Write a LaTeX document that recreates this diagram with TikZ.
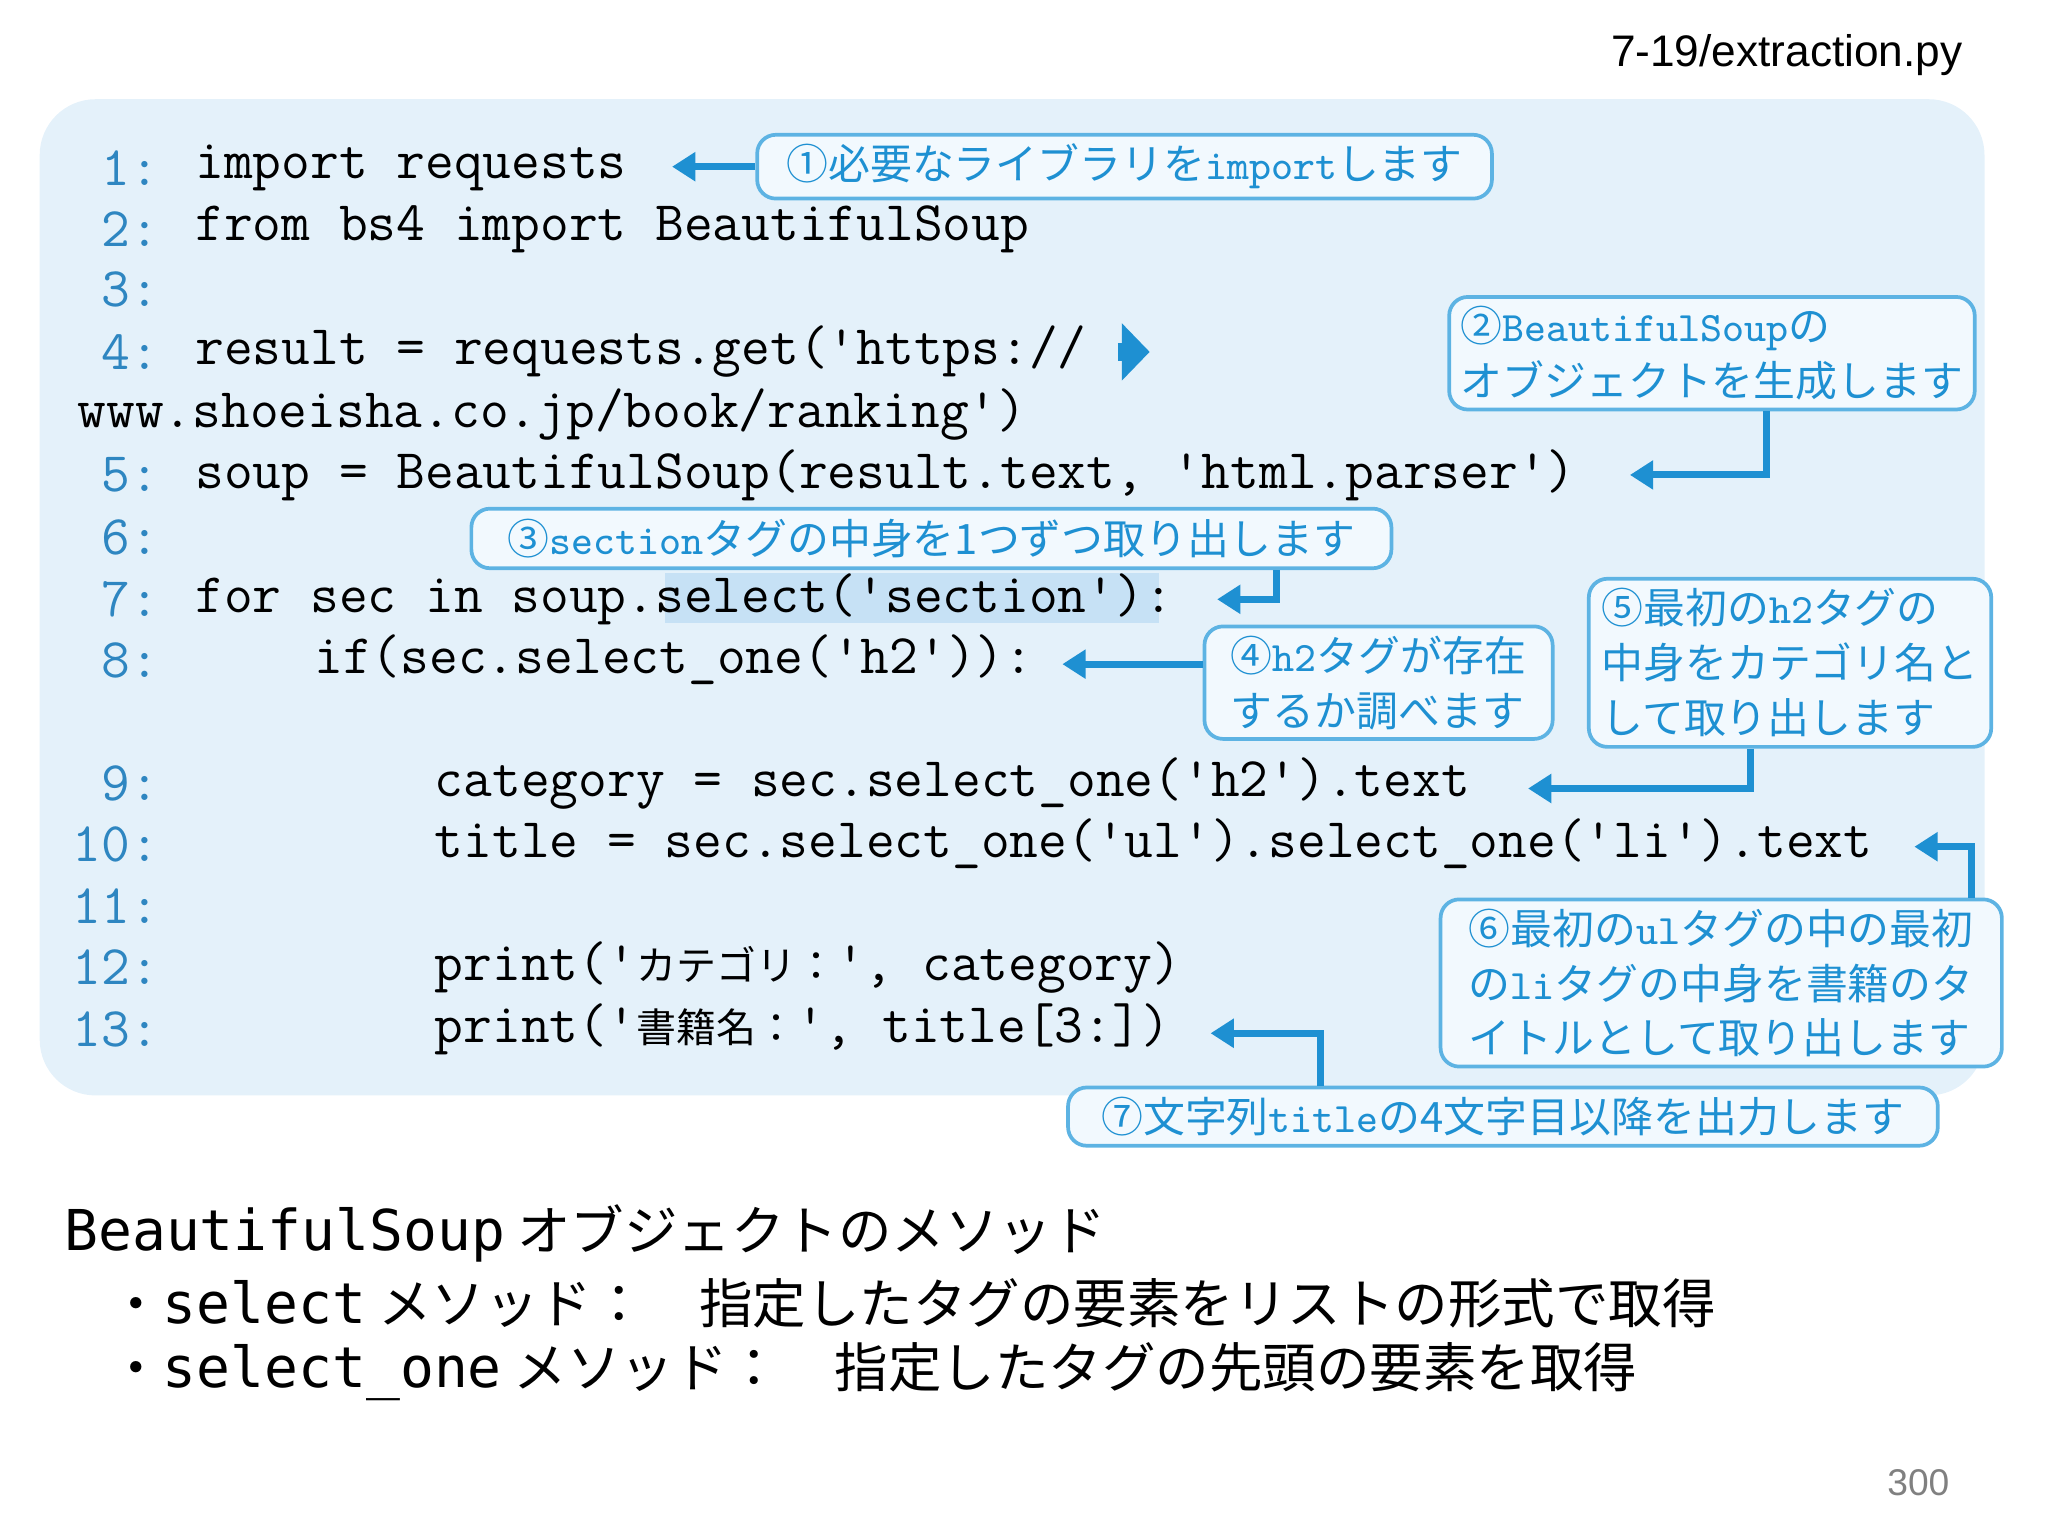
\documentclass[tikz,border=0pt]{standalone}
\usepackage{fontspec}
\setmainfont{Liberation Sans}
\newfontfamily\cjk{Noto Sans CJK JP}
\newfontfamily\dvm{DejaVu Sans Mono}
\usetikzlibrary{arrows.meta}
\definecolor{bgblue}{HTML}{E4F1FA}
\definecolor{numblue}{HTML}{2E86C1}
\definecolor{txtblue}{HTML}{1E90D2}
\definecolor{bordblue}{HTML}{5DB3E3}
\definecolor{annfill}{HTML}{F2F9FE}
\definecolor{hl}{HTML}{C6E1F5}
\tikzset{
  code/.style={anchor=west,inner sep=0pt,font=\ttfamily\fontsize{12}{14}\selectfont},
  num/.style={anchor=east,inner sep=0pt,text=numblue,font=\ttfamily\fontsize{12}{14}\selectfont},
  ann/.style={draw=bordblue,line width=0.8pt,fill=annfill,rounded corners=4pt,text=txtblue,align=left,inner sep=2pt,font=\cjk\fontsize{9}{11.8}\selectfont},
  arr/.style={draw=txtblue,line width=1.5pt,-{Triangle[length=5pt,width=6pt]}},
  bot/.style={anchor=west,inner sep=0pt,font=\cjk\fontsize{11.5}{13}\selectfont}
}
\newcommand\tl[1]{{\ttfamily #1}}
\newcommand\cj[1]{{\cjk\fontsize{8.6}{10}\selectfont #1}}
\newcommand\bl[1]{{\dvm\fontsize{12.1}{13}\selectfont #1}}
\begin{document}
\begin{tikzpicture}[x=0.01cm,y=-0.01cm]
\useasboundingbox (0,0) rectangle (1548,1161);
\fill[bgblue,rounded corners=12pt] (30,75) rectangle (1500,828);
\fill[hl] (503,433) rectangle (876,471);
\node[anchor=east,inner sep=0pt,font=\fontsize{9.5}{11}\selectfont] (file) at (1484,42) {7-19/extraction.py};
% line numbers
\foreach \n/\y in {1/127,2/173,3/219,4/266,5/359,6/406,7/453,8/499,9/592,10/638,11/685,12/731,13/778}
  \node[num] (n\n) at (121,\y) {\n:};
\node[code] (l1) at (147,127) {import requests};
\node[code] (l2) at (147,173) {from bs4 import BeautifulSoup};
\node[code] (l4) at (147,266) {result = requests.get('https://};
\node[code] (l4b) at (58,313) {www.shoeisha.co.jp/book/ranking')};
\node[code] (l5) at (147,359) {soup = BeautifulSoup(result.text, 'html.parser')};
\node[code] (l7) at (147,453) {for sec in soup.select('section'):};
\node[code] (l8) at (237,499) {if(sec.select\_one('h2')):};
\node[code] (l9) at (328,592) {category = sec.select\_one('h2').text};
\node[code] (l10) at (328,638) {title = sec.select\_one('ul').select\_one('li').text};
\node[code] (l12) at (328,731) {print('\cj{カテゴリ：}', category)};
\node[code] (l13) at (328,778) {print('\cj{書籍名：}', title[3:])};
\coordinate (c4) at (845,266);
\draw[draw=txtblue,line width=4pt,-{Triangle[length=6pt,width=12pt]}] (c4) -- ++(24,0);
% annotations
\node[ann,minimum width=5.55cm,minimum height=0.46cm] (a1) at (850,126) {①必要なライブラリを\tl{import}します};
\node[ann,minimum width=3.97cm,minimum height=0.85cm] (a2) at (1294,267) {②\tl{BeautifulSoup}の\\オブジェクトを生成します};
\node[ann,minimum width=6.95cm,minimum height=0.45cm] (a3) at (704,407) {③\tl{section}タグの中身を1つずつ取り出します};
\node[ann,minimum width=2.63cm,minimum height=0.84cm] (a4) at (1042,516) {④\tl{h2}タグが存在\\するか調べます};
\node[ann,minimum width=3.04cm,minimum height=1.27cm] (a5) at (1353,501) {⑤最初の\tl{h2}タグの\\中身をカテゴリ名と\\して取り出します};
\node[ann,minimum width=4.24cm,minimum height=1.26cm] (a6) at (1301,743) {⑥最初の\tl{ul}タグの中の最初\\の\tl{li}タグの中身を書籍のタ\\イトルとして取り出します};
\node[ann,minimum width=6.57cm,minimum height=0.44cm] (a7) at (1136,844) {⑦文字列\tl{title}の4文字目以降を出力します};
% targets
\coordinate (t1) at (508,126);
\coordinate (t2) at (1232,359);
\coordinate (t3) at (920,453);
\coordinate (t4) at (803,502);
\coordinate (t5) at (1155,596);
\coordinate (t6) at (1447,640);
\coordinate (t7) at (915,781);
\draw[arr] (a1.west) -- (t1);
\draw[arr] (a2.south -| 1335,0) |- (t2);
\draw[arr] (a3.south -| 965,0) |- (t3);
\draw[arr] (a4.west |- t4) -- (t4);
\draw[arr] (a5.south -| 1323,0) |- (t5);
\draw[arr] (a6.north -| 1490,0) |- (t6);
\draw[arr] (a7.north -| 998,0) |- (t7);
% bottom text
\node[bot] (b1) at (48,932) {\bl{BeautifulSoup}\ オブジェクトのメソッド};
\node[bot] (b2) at (82,985) {・\bl{select}\ メソッド：\quad 指定したタグの要素をリストの形式で取得};
\node[bot] (b3) at (82,1037) {・\bl{select\_one}\ メソッド：\quad 指定したタグの先頭の要素を取得};
\node[anchor=center,inner sep=0pt,text=gray,font=\fontsize{8}{10}\selectfont] (pg) at (1450,1121) {300};
\end{tikzpicture}
\end{document}
